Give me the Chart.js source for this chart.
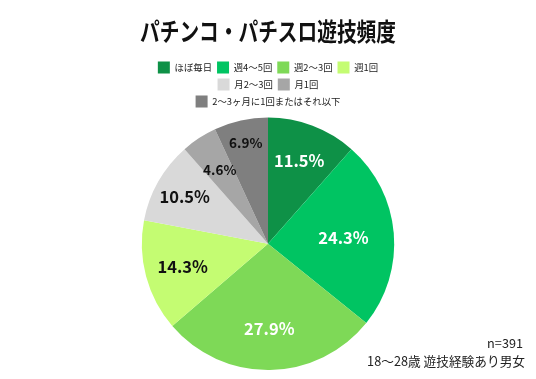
<!DOCTYPE html>
<html><head><meta charset="utf-8">
<script src="https://cdn.jsdelivr.net/npm/chart.js@4"></script>
<style>html,body{margin:0;padding:0;background:#fff;}#wrap{width:536px;height:379px;}</style>
</head><body><div id="wrap"><canvas id="c" width="536" height="379"></canvas></div>
<script>
const categories = ['ほぼ毎日','週4〜5回','週2〜3回','週1回','月2〜3回','月1回','2〜3ヶ月に1回またはそれ以下'];
const values = [11.5, 24.3, 27.9, 14.3, 10.5, 4.6, 6.9];
const sliceColors = ['#0e9147','#00c462','#7ed957','#c4fc72','#d9d9d9','#a6a6a6','#7f7f7f'];
const labelColors = ['#ffffff','#ffffff','#ffffff','#111111','#111111','#111111','#111111'];
const noteLines = ['n=391','18〜28歳 遊技経験あり男女'];
const FONT = '"Noto Sans CJK JP","Noto Sans",sans-serif';
// radial placement of each percentage label, as a fraction of the radius
const labelRadius = [0.70, 0.60, 0.67, 0.70, 0.76, 0.70, 0.82];

const labelPlugin = {
  id: 'sliceLabels',
  afterDatasetsDraw(chart) {
    const ctx = chart.ctx;
    const meta = chart.getDatasetMeta(0);
    ctx.save();
    meta.data.forEach((arc, i) => {
      const p = arc.getProps(['x','y','startAngle','endAngle','outerRadius'], true);
      const mid = (p.startAngle + p.endAngle) / 2;
      const r = p.outerRadius * labelRadius[i];
      const x = p.x + Math.cos(mid) * r;
      const y = p.y + Math.sin(mid) * r;
      const small = values[i] < 8;
      ctx.font = 'bold ' + (small ? 13.5 : 16.5) + 'px ' + FONT;
      ctx.fillStyle = labelColors[i];
      ctx.textAlign = 'center';
      ctx.textBaseline = 'middle';
      ctx.fillText(values[i].toFixed(1) + '%', x, y);
    });
    ctx.restore();
  },
  afterDraw(chart) {
    const ctx = chart.ctx;
    ctx.save();
    ctx.font = '12.7px ' + FONT;
    ctx.fillStyle = '#222';
    ctx.textAlign = 'right';
    ctx.textBaseline = 'middle';
    ctx.fillText(noteLines[0], 523, 343);
    ctx.fillText(noteLines[1], 525, 361);
    ctx.restore();
  }
};

new Chart(document.getElementById('c'), {
  type: 'pie',
  data: {
    labels: categories,
    datasets: [{ data: values, backgroundColor: sliceColors, borderWidth: 0, hoverOffset: 0 }]
  },
  options: {
    responsive: false,
    animation: false,
    layout: { padding: { top: 7, bottom: 9, left: 140, right: 140 } },
    plugins: {
      tooltip: { enabled: false },
      title: {
        display: true,
        text: 'パチンコ・パチスロ遊技頻度',
        color: '#111',
        font: { family: FONT, size: 25.5, weight: 'bold', lineHeight: 1.2 },
        padding: { top: 9, bottom: 10 }
      },
      legend: {
        position: 'top',
        labels: {
          boxWidth: 12, boxHeight: 12, padding: 5,
          color: '#222',
          font: { family: FONT, size: 9.4, lineHeight: 1 }
        }
      }
    }
  },
  plugins: [labelPlugin]
});
</script></body></html>
